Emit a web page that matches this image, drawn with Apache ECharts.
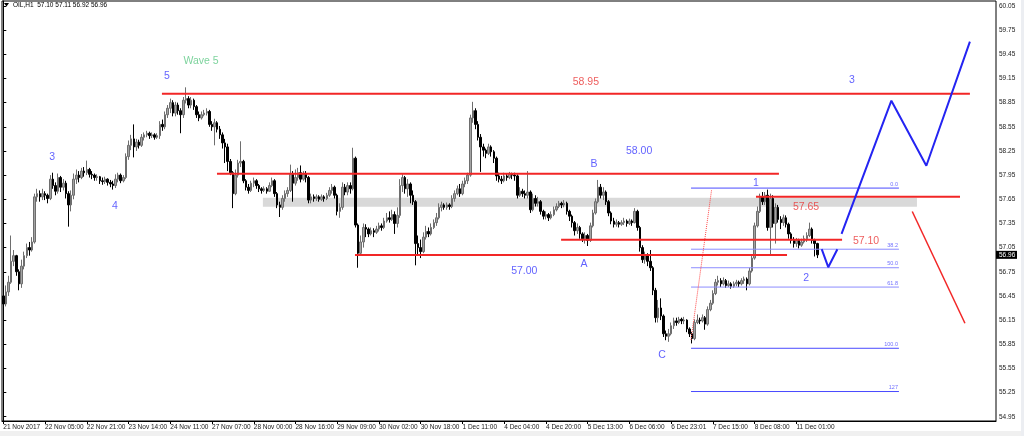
<!DOCTYPE html>
<html>
<head>
<meta charset="utf-8">
<script src="https://cdn.jsdelivr.net/npm/echarts@6/dist/echarts.min.js"></script>
<style>html,body{margin:0;padding:0;background:#fff}#chart{width:1024px;height:436px}</style>
</head>
<body>
<div id="chart"></div>
<script>
// ---------- DATA (hourly OIL candles) ----------
const SYMBOL = 'OIL,H1';
const FIRST_OPEN = 56.45;
const CLOSE = [
56.35,56.50,56.62,56.88,56.95,56.75,56.60,56.82,56.95,57.05,57.02,57.12,57.68,57.72,57.68,57.72,
57.70,57.66,57.90,57.82,57.75,57.92,57.80,57.85,57.72,57.58,57.70,57.90,57.95,57.92,58.00,57.98,
58.02,57.96,57.95,57.92,57.93,57.88,57.87,57.90,57.86,57.84,57.82,57.90,57.95,57.88,57.92,58.18,
58.32,58.40,58.30,58.36,58.32,58.42,58.45,58.47,58.44,58.45,58.42,58.44,58.58,58.55,58.70,58.78,
58.85,58.72,58.82,58.75,58.70,58.88,58.90,58.82,58.88,58.80,58.70,58.66,58.70,58.72,58.74,58.58,
58.55,58.60,58.52,58.45,58.35,58.30,58.12,57.98,57.72,57.95,58.10,58.12,57.88,57.80,57.76,57.85,
57.88,57.82,57.78,57.76,57.78,57.75,57.82,57.88,57.72,57.58,57.55,57.66,57.72,57.76,57.96,57.85,
57.92,57.98,57.90,57.96,57.92,57.64,57.68,57.66,57.68,57.65,57.68,57.66,57.70,57.76,57.80,57.70,
57.50,57.55,57.80,57.74,57.82,57.78,58.16,57.33,56.98,57.12,57.30,57.28,57.22,57.26,57.24,57.28,
57.32,57.30,57.38,57.42,57.40,57.46,57.35,57.45,57.82,57.92,57.78,57.84,57.70,57.62,57.10,57.05,
57.00,57.18,57.25,57.22,57.30,57.36,57.42,57.55,57.58,57.55,57.58,57.56,57.66,57.72,57.78,57.72,
57.84,57.88,57.95,58.66,58.75,58.58,58.42,58.30,58.26,58.22,58.30,58.24,58.16,57.94,57.90,57.88,
57.94,57.92,57.96,57.95,57.94,57.70,57.75,57.72,57.70,57.74,57.52,57.66,57.60,57.62,57.50,57.44,
57.46,57.42,57.46,57.52,57.56,57.60,57.58,57.60,57.50,57.44,57.36,57.26,57.30,57.22,57.16,57.20,
57.14,57.32,57.48,57.62,57.80,57.70,57.74,57.62,57.48,57.38,57.34,57.36,57.34,57.36,57.38,57.35,
57.38,57.36,57.50,57.30,57.05,56.90,56.95,56.88,56.80,56.52,56.18,56.30,56.20,55.98,55.95,55.98,
56.08,56.14,56.12,56.16,56.14,56.15,56.04,55.98,55.92,56.12,56.15,56.14,56.18,56.10,56.28,56.36,
56.48,56.62,56.64,56.60,56.64,56.58,56.60,56.57,56.60,56.62,56.60,56.64,56.66,56.60,56.76,56.92,
57.32,57.50,57.68,57.62,57.70,57.30,57.66,57.35,57.55,57.40,57.36,57.42,57.34,57.22,57.14,57.10,
57.14,57.08,57.12,57.16,57.20,57.28,57.14,57.10,56.96
];
const HIGH = [
56.52,56.58,56.70,57.20,57.02,56.96,56.78,56.90,57.00,57.10,57.12,57.18,57.72,57.78,57.76,57.78,
57.75,57.72,57.95,57.98,57.86,57.97,57.94,57.90,57.88,57.75,57.76,57.97,58.02,58.00,58.04,58.05,
58.13,58.04,58.00,57.97,57.96,57.94,57.92,57.93,57.91,57.89,57.88,57.96,57.98,57.97,57.95,58.22,
58.38,58.45,58.58,58.40,58.39,58.46,58.48,58.50,58.49,58.48,58.47,58.47,58.62,58.64,58.74,58.82,
58.90,58.88,58.86,58.85,58.78,58.92,59.04,58.93,58.92,58.90,58.82,58.74,58.74,58.76,58.78,58.76,
58.62,58.65,58.62,58.56,58.48,58.40,58.34,58.15,58.00,58.02,58.14,58.37,58.14,57.90,57.84,57.88,
57.92,57.90,57.84,57.80,57.81,57.80,57.86,57.92,57.90,57.74,57.62,57.70,57.76,57.80,58.08,58.00,
58.02,58.04,58.07,58.00,58.00,57.94,57.72,57.71,57.71,57.70,57.71,57.70,57.73,57.80,57.84,57.82,
57.72,57.60,57.86,57.84,57.86,57.86,58.29,58.18,57.35,57.20,57.35,57.34,57.30,57.30,57.29,57.32,
57.36,57.35,57.42,57.48,57.50,57.52,57.50,57.55,57.90,57.96,57.94,57.90,57.86,57.76,57.64,57.20,
57.15,57.24,57.32,57.30,57.35,57.40,57.48,57.60,57.62,57.60,57.61,57.60,57.70,57.76,57.82,57.84,
57.88,57.92,57.98,58.70,58.86,58.78,58.62,58.46,58.34,58.28,58.34,58.32,58.26,58.18,57.98,57.94,
57.98,57.97,57.99,57.98,57.98,57.96,57.80,57.78,57.76,58.00,57.76,57.72,57.70,57.68,57.64,57.52,
57.50,57.48,57.50,57.56,57.60,57.63,57.62,57.64,57.62,57.52,57.46,57.38,57.35,57.32,57.24,57.24,
57.22,57.36,57.52,57.66,57.89,57.84,57.80,57.76,57.64,57.50,57.42,57.40,57.38,57.39,57.42,57.40,
57.41,57.40,57.54,57.52,57.32,57.08,57.00,56.98,57.02,56.82,56.55,56.40,56.42,56.22,56.02,56.04,
56.12,56.18,56.18,56.19,56.18,56.19,56.16,56.06,56.00,56.16,56.22,56.18,56.22,56.20,56.32,56.40,
56.52,56.66,56.70,56.67,56.68,56.66,56.64,56.62,56.63,56.65,56.64,56.67,56.69,56.68,56.80,56.96,
57.36,57.56,57.72,57.74,57.74,57.77,57.72,57.70,57.60,57.58,57.44,57.46,57.45,57.36,57.24,57.18,
57.17,57.16,57.16,57.20,57.24,57.36,57.30,57.16,57.11
];
const LOW = [
56.30,56.32,56.45,56.60,56.82,56.70,56.52,56.55,56.78,56.92,56.95,57.00,57.10,57.62,57.62,57.64,
57.64,57.60,57.64,57.78,57.70,57.72,57.74,57.76,57.66,57.31,57.50,57.65,57.84,57.86,57.90,57.93,
57.95,57.92,57.90,57.88,57.88,57.84,57.83,57.84,57.82,57.80,57.77,57.79,57.86,57.85,57.86,57.90,
58.14,58.26,58.17,58.25,58.28,58.30,58.38,58.42,58.40,58.41,58.39,58.40,58.40,58.50,58.52,58.66,
58.72,58.68,58.68,58.70,58.47,58.66,58.84,58.78,58.78,58.76,58.66,58.62,58.64,58.68,58.69,58.55,
58.50,58.32,58.48,58.40,58.28,58.10,58.00,57.95,57.54,57.70,57.92,58.05,57.85,57.76,57.72,57.74,
57.80,57.78,57.74,57.72,57.74,57.72,57.74,57.80,57.68,57.54,57.43,57.52,57.62,57.68,57.74,57.62,
57.82,57.88,57.86,57.88,57.86,57.60,57.60,57.62,57.63,57.62,57.63,57.62,57.64,57.68,57.72,57.66,
57.45,57.42,57.52,57.70,57.70,57.72,57.76,57.30,56.80,56.95,57.05,57.18,57.18,57.20,57.18,57.22,
57.25,57.26,57.28,57.36,57.36,57.38,57.22,57.30,57.42,57.74,57.72,57.68,57.60,57.58,56.83,56.95,
56.92,56.98,57.15,57.18,57.20,57.28,57.32,57.40,57.50,57.52,57.52,57.52,57.54,57.62,57.70,57.68,
57.70,57.80,57.84,57.93,58.60,58.52,58.38,57.99,58.18,58.16,58.20,58.18,58.10,57.88,57.86,57.84,
57.86,57.88,57.90,57.90,57.88,57.66,57.68,57.68,57.66,57.66,57.48,57.50,57.56,57.56,57.46,57.40,
57.40,57.38,57.40,57.44,57.50,57.54,57.54,57.55,57.46,57.38,57.30,57.20,57.22,57.16,57.12,57.10,
57.07,57.12,57.30,57.46,57.60,57.66,57.64,57.58,57.44,57.34,57.30,57.31,57.30,57.32,57.33,57.31,
57.33,57.32,57.35,57.26,57.00,56.86,56.85,56.82,56.76,56.46,56.12,56.12,56.15,55.94,55.90,55.88,
55.96,56.04,56.08,56.10,56.10,56.10,56.00,55.94,55.86,55.90,56.10,56.10,56.12,56.03,56.08,56.26,
56.34,56.46,56.58,56.56,56.58,56.55,56.56,56.54,56.55,56.57,56.56,56.58,56.60,56.52,56.58,56.74,
56.90,57.30,57.48,57.58,57.58,57.26,56.96,57.30,57.10,57.36,57.28,57.32,57.30,57.16,57.10,57.05,
57.06,57.04,57.06,57.10,57.12,57.18,57.10,56.94,56.92
];
const TOTAL_SLOTS = 381;   // bar slots across the chart width (incl. empty right shift)
const TICK_BARS = [0,16,32,48,64,80,96,112,128,144,160,176,192,208,224,240,256,272,288,304];
const TICK_LABELS = ['21 Nov 2017','22 Nov 05:00','22 Nov 21:00','23 Nov 14:00','24 Nov 11:00','27 Nov 07:00',
  '28 Nov 00:00','28 Nov 16:00','29 Nov 09:00','30 Nov 02:00','30 Nov 18:00','1 Dec 11:00','4 Dec 04:00',
  '4 Dec 20:00','5 Dec 13:00','6 Dec 06:00','6 Dec 23:01','7 Dec 15:00','8 Dec 08:00','11 Dec 01:00'];
const Y_TICKS = [54.95,55.25,55.55,55.85,56.15,56.45,56.75,57.05,57.35,57.65,57.95,58.25,58.55,58.85,59.15,59.45,59.75,60.05];
const Y_MIN = 54.897, Y_MAX = 60.112;

// annotations: [fromBar, toBar, price]
const RED_LEVELS = [[60.8,370.5,58.96],[81.9,297.3,57.967],[134.8,300.4,56.957],[213.8,321.5,57.146],[288.5,366.7,57.68]];
const GRAY_ZONE = [99.5,350.2,57.668,57.556];
const FIB_FROM = 263.6, FIB_TO = 343.3;
const FIB_TEXT = ['0.0','38.2','50.0','61.8','100.0','127'];
const FIB_PRICE = [57.789,57.03,56.80,56.56,55.80,55.263];
const RED_DOTTED = [[263.6,55.903],[271.5,57.77]];
const BLUE_V = [[313.7,57.03],[316.2,56.807],[319.7,57.03]];
const BLUE_PATH = [[321.3,57.22],[340.4,58.874],[353.8,58.066],[370.5,59.607]];
const RED_DIAG = [[348.4,57.498],[368.6,56.111]];
// text annotations: [text, bar, price]
const BLUE_NOTES = [['5',62.7,59.18],['3',18.7,58.176],['4',42.8,57.566],['B',226.4,58.085],['58.00',243.7,58.25],
  ['A',222.6,56.848],['57.00',199.7,56.76],['C',252.5,55.717],['1',288.5,57.852],['2',307.7,56.674],['3',325.3,59.134]];
const RED_NOTES = [['58.95',223.3,59.11],['57.65',307.7,57.554],['57.10',330.7,57.13]];
const GREEN_NOTES = [['Wave 5',75.8,59.371]];

// ---------- BUILD ----------
const N = CLOSE.length;
const OPEN = CLOSE.map((c, i) => i === 0 ? FIRST_OPEN : CLOSE[i - 1]);
const candles = CLOSE.map((c, i) => {
  const o = OPEN[i];
  return [o, c, Math.min(LOW[i], o, c), Math.max(HIGH[i], o, c)];
});
const cats = [];
for (let i = 0; i < TOTAL_SLOTS; i++) {
  const k = TICK_BARS.indexOf(i);
  cats.push(k >= 0 ? TICK_LABELS[k] : '');
}
const showTick = (i, v) => v !== '';
const FONT = 'Liberation Sans, Arial, sans-serif';
const BLUE = '#3a3aff', RED = '#f22626';

const series = [];
series.push({
  type: 'line', xAxisIndex: 1, yAxisIndex: 0, data: [], z: 1, silent: true,
  markArea: { silent: true, itemStyle: { color: '#d9d9d9' },
    data: [[{ coord: [GRAY_ZONE[0], GRAY_ZONE[2]] }, { coord: [GRAY_ZONE[1], GRAY_ZONE[3]] }]] }
});
series.push({
  type: 'candlestick', xAxisIndex: 0, yAxisIndex: 0, data: candles, z: 2, barWidth: 2,
  itemStyle: { color: '#a3a3a3', color0: '#000', borderColor: '#6e6e6e', borderColor0: '#000', borderWidth: 1 }
});
const lineS = (data, color, width, type, z) => ({
  type: 'line', xAxisIndex: 1, yAxisIndex: 0, data, symbol: 'none', silent: true, z: z || 4,
  lineStyle: { color, width, type: type || 'solid' }
});
RED_LEVELS.forEach(l => series.push(lineS([[l[0], l[2]], [l[1], l[2]]], RED, 2)));
FIB_PRICE.forEach((p, i) => {
  const mid = i >= 1 && i <= 3;
  series.push(lineS([[FIB_FROM, p], [FIB_TO, p]], mid ? '#8c8cff' : '#4a4aff', 1, 'solid', 3));
});
series.push(lineS(RED_DOTTED, '#ff4a4a', 1, 'dotted', 3));
series.push(lineS(BLUE_V, '#2424f2', 2));
series.push(lineS(BLUE_PATH, '#2424f2', 2));
series.push(lineS(RED_DIAG, RED, 1.5));

const textS = (notes, color, size, align, vAlign, offset) => ({
  type: 'scatter', xAxisIndex: 1, yAxisIndex: 0, symbolSize: 1, silent: true, z: 5,
  itemStyle: { color: 'rgba(0,0,0,0)' },
  data: notes.map(n => ({ name: n[0], value: [n[1], n[2]] })),
  label: { show: true, position: 'inside', formatter: '{b}', color, fontSize: size, fontFamily: FONT,
    align: align || 'center', verticalAlign: vAlign || 'middle', offset: offset || [0, 0] }
});
series.push(textS(BLUE_NOTES, BLUE, 10.5));
series.push(textS(RED_NOTES, '#ea3434', 10.5));
series.push(textS(GREEN_NOTES, '#5cc884', 10.5));
series.push(textS(FIB_TEXT.map((t, i) => [t, FIB_TO, FIB_PRICE[i]]), '#4a4aff', 5.5, 'right', 'bottom', [-1, -1]));

const header = SYMBOL + '  ' + [OPEN[N - 1], HIGH[N - 1], LOW[N - 1], CLOSE[N - 1]].map(v => v.toFixed(2)).join(' ');

const chart = echarts.init(document.getElementById('chart'), null, { renderer: 'canvas' });
chart.setOption({
  animation: false,
  backgroundColor: '#fff',
  grid: { left: 2, right: 28, top: 1, bottom: 15, show: true, borderColor: '#000', borderWidth: 1, backgroundColor: '#fff' },
  xAxis: [{
    type: 'category', data: cats, boundaryGap: true, gridIndex: 0,
    axisLine: { show: true, lineStyle: { color: '#000', width: 1 } },
    axisTick: { show: true, interval: showTick, alignWithLabel: true, length: 3, lineStyle: { color: '#000' } },
    axisLabel: { show: true, interval: showTick, align: 'left', margin: 3, fontSize: 6.5, color: '#1a1a1a', fontFamily: FONT },
    splitLine: { show: false }
  }, {
    type: 'value', min: -0.5, max: TOTAL_SLOTS - 0.5, show: false, gridIndex: 0
  }],
  yAxis: [{
    type: 'value', position: 'right', min: Y_MIN, max: Y_MAX, scale: true,
    axisLine: { show: true, lineStyle: { color: '#000', width: 1 } },
    axisTick: { show: true, length: 3, customValues: Y_TICKS, lineStyle: { color: '#000' } },
    axisLabel: { show: true, customValues: Y_TICKS, margin: 3, fontSize: 6.5, color: '#1a1a1a', fontFamily: FONT,
      formatter: v => v.toFixed(2) },
    splitLine: { show: false }
  }],
  series,
  graphic: [
    { type: 'rect', left: 0, top: 431, shape: { width: 1024, height: 5 }, style: { fill: '#f0f0f0' }, silent: true },
    { type: 'rect', left: 1021, top: 0, shape: { width: 3, height: 436 }, style: { fill: '#eceef2' }, silent: true },
    { type: 'polygon', shape: { points: [[4, 3], [9, 3], [6.5, 6.5]] }, style: { fill: '#000' }, silent: true },
    { type: 'text', left: 13, top: 2, style: { text: header, fill: '#000', fontSize: 6.5, fontFamily: FONT }, silent: true }
  ]
});
// last-price box on the price scale, placed through the chart's own scales
const lastPx = chart.convertToPixel({ yAxisIndex: 0 }, CLOSE[N - 1]);
const axisPx = chart.convertToPixel({ xAxisIndex: 1 }, TOTAL_SLOTS - 0.5);
chart.setOption({
  graphic: [
    { type: 'rect', left: 0, top: 431, shape: { width: 1024, height: 5 }, style: { fill: '#f0f0f0' }, silent: true },
    { type: 'rect', left: 1021, top: 0, shape: { width: 3, height: 436 }, style: { fill: '#eceef2' }, silent: true },
    { type: 'polygon', shape: { points: [[4, 3], [9, 3], [6.5, 6.5]] }, style: { fill: '#000' }, silent: true },
    { type: 'text', left: 13, top: 2, style: { text: header, fill: '#000', fontSize: 6.5, fontFamily: FONT }, silent: true },
    { type: 'rect', x: axisPx, y: lastPx - 4, shape: { width: 21, height: 8 }, style: { fill: '#000' }, z: 100, silent: true },
    { type: 'text', x: axisPx + 3, y: lastPx, style: { text: CLOSE[N - 1].toFixed(2), fill: '#fff', fontSize: 6.5,
      fontFamily: FONT, verticalAlign: 'middle' }, z: 101, silent: true }
  ]
});
</script>
</body>
</html>
